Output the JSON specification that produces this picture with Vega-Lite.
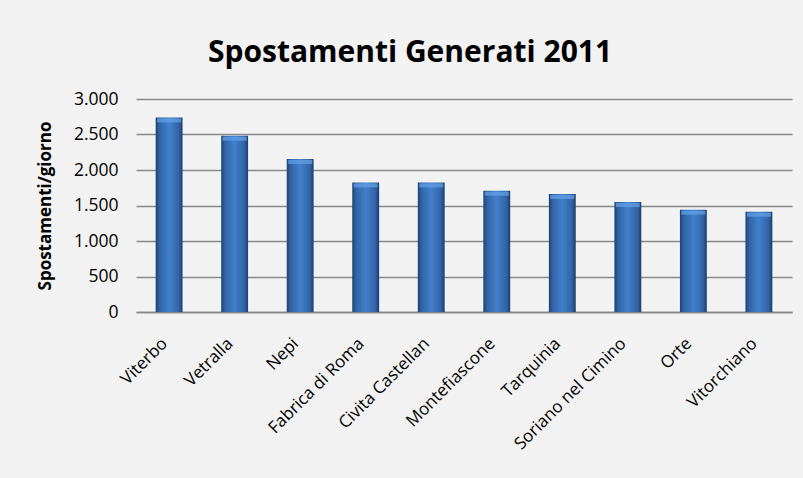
{
  "$schema": "https://vega.github.io/schema/vega-lite/v6.json",
  "width": 656,
  "height": 213,
  "autosize": {"type": "none"},
  "padding": {"left": 136, "top": 99, "right": 11, "bottom": 166},
  "background": "#f2f2f2",
  "title": {
    "text": "Spostamenti Generati 2011",
    "font": "Open Sans",
    "fontSize": 30,
    "fontWeight": "bold",
    "color": "#000000",
    "anchor": "middle",
    "dx": -54,
    "offset": 22
  },
  "config": {
    "locale": {"number": {"decimal": ",", "thousands": ".", "grouping": [3], "currency": ["€", ""]}},
    "view": {"stroke": null},
    "axis": {"labelFont": "Open Sans", "titleFont": "Open Sans", "labelColor": "#000000", "titleColor": "#000000"}
  },
  "data": {
    "values": [
      {"comune": "Viterbo", "spostamenti": 2740},
      {"comune": "Vetralla", "spostamenti": 2483},
      {"comune": "Nepi", "spostamenti": 2155},
      {"comune": "Fabrica di Roma", "spostamenti": 1825},
      {"comune": "Civita Castellan", "spostamenti": 1825},
      {"comune": "Montefiascone", "spostamenti": 1708},
      {"comune": "Tarquinia", "spostamenti": 1662},
      {"comune": "Soriano nel Cimino", "spostamenti": 1549},
      {"comune": "Orte", "spostamenti": 1441},
      {"comune": "Vitorchiano", "spostamenti": 1413}
    ]
  },
  "encoding": {
    "x": {
      "field": "comune",
      "type": "nominal",
      "sort": null,
      "scale": {"paddingInner": 0.59, "paddingOuter": 0.3},
      "axis": {
        "title": null,
        "labelAngle": -45,
        "labelFontSize": 17,
        "labelAlign": "right",
        "labelBaseline": "top",
        "labelPadding": 23,
        "labelOffset": -10,
        "ticks": false,
        "domainColor": "#888888",
        "domainWidth": 1.5
      }
    },
    "y": {
      "field": "spostamenti",
      "type": "quantitative",
      "scale": {"domain": [0, 3000], "nice": false},
      "axis": {
        "title": "Spostamenti/giorno",
        "titleFontSize": 17,
        "titleFontWeight": "bold",
        "titlePadding": 19,
        "values": [0, 500, 1000, 1500, 2000, 2500, 3000],
        "format": ",d",
        "labelFontSize": 17.5,
        "labelPadding": 18,
        "ticks": false,
        "domain": false,
        "gridColor": "#888888",
        "gridWidth": 1.3,
        "gridOpacity": 1
      }
    }
  },
  "layer": [
    {
      "mark": {
        "type": "bar",
        "color": {
          "gradient": "linear",
          "x1": 0, "x2": 1, "y1": 0, "y2": 0,
          "stops": [
            {"offset": 0, "color": "#1c4272"},
            {"offset": 0.14, "color": "#3263a6"},
            {"offset": 0.5, "color": "#4180cb"},
            {"offset": 0.86, "color": "#3263a6"},
            {"offset": 1, "color": "#1a3d69"}
          ]
        }
      }
    },
    {
      "mark": {
        "type": "tick",
        "thickness": 4,
        "size": 24,
        "yOffset": 3,
        "color": "#64a2ea"
      }
    }
  ]
}
